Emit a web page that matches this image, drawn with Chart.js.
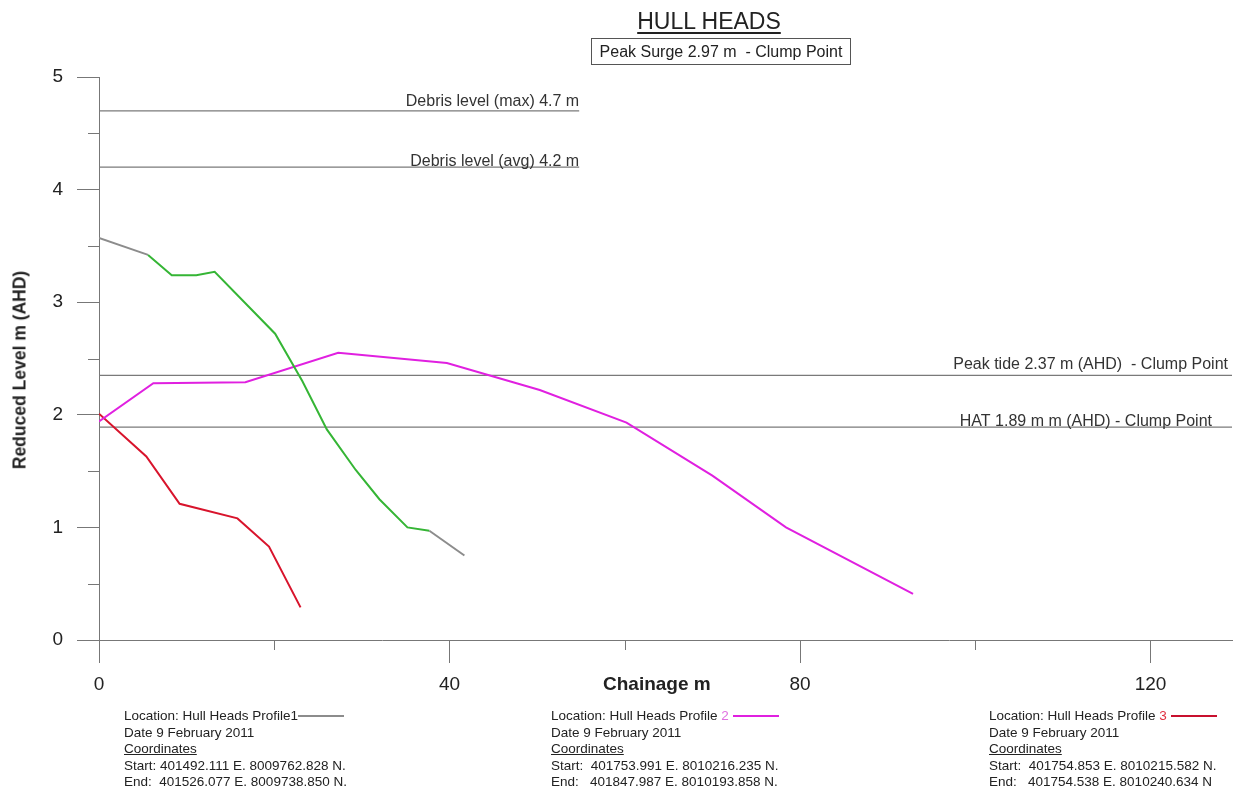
<!DOCTYPE html>
<html>
<head>
<meta charset="utf-8">
<script src="https://cdn.jsdelivr.net/npm/chart.js@4"></script>
<style>
  body { margin: 0; background: #fff; font-family: "Liberation Sans", Arial, sans-serif; color: #222; }
  #wrap { position: absolute; left: 0; top: 0; width: 1233px; height: 789px; }
  .txt { position: absolute; white-space: pre; }
  #title { left: 0; width: 1418px; top: 8px; text-align: center; font-size: 23px; text-decoration: underline; text-underline-offset: 3px; }
  #surge { left: 591px; top: 38px; width: 258px; height: 25px; border: 1px solid #555; font-size: 16px; line-height: 25px; text-align: center; }
  #ytitle { left: 20px; top: 370px; font-size: 17.5px; font-weight: bold; transform: translate(-50%, -50%) rotate(-90deg); }
  #xtitle { left: 603px; top: 673px; font-size: 19px; font-weight: bold; }
  .foot { position: absolute; top: 708px; font-size: 13.5px; line-height: 16.5px; white-space: pre; }
  .foot u { text-decoration: underline; }
  .key { display: inline-block; width: 46px; height: 0; border-top: 2px solid; vertical-align: middle; margin-left: 4px; }
</style>
</head>
<body>
<div id="wrap">
  <canvas id="chart"></canvas>
</div>
<div class="txt" id="title">HULL HEADS</div>
<div class="txt" id="surge">Peak Surge 2.97 m  - Clump Point</div>
<div class="txt" id="ytitle">Reduced Level m (AHD)</div>
<div class="txt" id="xtitle">Chainage m</div>
<div class="foot" style="left:124px">Location: Hull Heads Profile1<span class="key" style="border-color:#8c8c8c;margin-left:0"></span>
Date 9 February 2011
<u>Coordinates</u>
Start: 401492.111 E. 8009762.828 N.
End:  401526.077 E. 8009738.850 N.</div>
<div class="foot" style="left:551px">Location: Hull Heads Profile <span style="color:#e070e0">2</span><span class="key" style="border-color:#e020e0"></span>
Date 9 February 2011
<u>Coordinates</u>
Start:  401753.991 E. 8010216.235 N.
End:   401847.987 E. 8010193.858 N.</div>
<div class="foot" style="left:989px">Location: Hull Heads Profile <span style="color:#e03040">3</span><span class="key" style="border-color:#c8102e"></span>
Date 9 February 2011
<u>Coordinates</u>
Start:  401754.853 E. 8010215.582 N.
End:   401754.538 E. 8010240.634 N</div>

<script>
// Profile data: chainage (m) and reduced level (m AHD)
const profile1X = [0, 5.6, 8.3, 11.1, 13.2, 20.1, 23.2, 26, 29.3, 32, 35.2, 37.7, 41.7];
const profile1Y = [3.57, 3.42, 3.24, 3.24, 3.27, 2.72, 2.3, 1.87, 1.51, 1.25, 1.0, 0.97, 0.75];

const profile2X = [0, 6.2, 16.7, 27.3, 39.7, 50.3, 60.2, 70, 78.4, 92.9];
const profile2Y = [1.94, 2.28, 2.29, 2.55, 2.46, 2.22, 1.93, 1.46, 1.0, 0.41];

const profile3X = [0, 5.4, 9.2, 15.8, 19.4, 23.0];
const profile3Y = [2.01, 1.63, 1.21, 1.08, 0.83, 0.29];

// Reference levels
const refLevels = [4.7, 4.2, 2.35, 1.89];
const refEnds = [54.8, 54.8, 129.3, 129.3];
const refLabels = [
    'Debris level (max) 4.7 m',
    'Debris level (avg) 4.2 m',
    'Peak tide 2.37 m (AHD)  - Clump Point',
    'HAT 1.89 m m (AHD) - Clump Point'
];

const xTickStep = 20;
const yTickStep = 0.5;

const zip = (xs, ys) => xs.map((x, i) => ({ x: x, y: ys[i] }));

const green = '#35b535';
const grey = '#8c8c8c';

const datasets = [
    {
        label: 'Profile 1',
        data: zip(profile1X, profile1Y),
        borderColor: green,
        segment: {
            borderColor: ctx => (ctx.p0DataIndex === 0 || ctx.p0DataIndex >= 11) ? grey : green
        }
    },
    { label: 'Profile 2', data: zip(profile2X, profile2Y), borderColor: '#e020e0' },
    { label: 'Profile 3', data: zip(profile3X, profile3Y), borderColor: '#d8142c' }
].map(d => Object.assign(d, { borderWidth: 2, pointRadius: 0, tension: 0, fill: false }));

refLevels.forEach((lvl, i) => {
    datasets.push({
        label: refLabels[i],
        data: [{ x: 0, y: lvl }, { x: refEnds[i], y: lvl }],
        borderColor: '#7a7a7a',
        borderWidth: 1.2,
        pointRadius: 0
    });
});

// label offsets for the level lines (dx from line end, dy above line)
const refLabelShift = [[0, 9], [0, 5], [-4, 11], [-20, 6]];

const refLabelPlugin = {
    id: 'refLabels',
    afterDatasetsDraw(chart) {
        const { ctx, scales: { x, y } } = chart;
        ctx.save();
        ctx.font = '16px "Liberation Sans", Arial, sans-serif';
        ctx.fillStyle = '#333';
        ctx.textAlign = 'right';
        ctx.textBaseline = 'middle';
        refLevels.forEach((lvl, i) => {
            const px = x.getPixelForValue(refEnds[i]) + refLabelShift[i][0];
            const py = y.getPixelForValue(lvl) - refLabelShift[i][1];
            ctx.fillText(refLabels[i], px, py);
        });
        ctx.restore();
    }
};

const minorTickPlugin = {
    id: 'minorTicks',
    afterDraw(chart) {
        const { ctx, scales: { x, y } } = chart;
        ctx.save();
        ctx.strokeStyle = '#777';
        ctx.lineWidth = 1;
        ctx.beginPath();
        x.ticks.forEach(t => {
            if (t.value % 40 !== 0) {
                const px = Math.round(x.getPixelForValue(t.value)) + 0.5;
                ctx.moveTo(px, y.bottom);
                ctx.lineTo(px, y.bottom + 10);
            }
        });
        y.ticks.forEach(t => {
            if (!Number.isInteger(t.value)) {
                const py = Math.round(y.getPixelForValue(t.value)) + 0.5;
                ctx.moveTo(x.left - 11, py);
                ctx.lineTo(x.left, py);
            }
        });
        ctx.stroke();
        ctx.restore();
    }
};

Chart.defaults.font.family = '"Liberation Sans", Arial, sans-serif';
Chart.defaults.color = '#222';

new Chart(document.getElementById('chart'), {
    type: 'line',
    data: { datasets: datasets },
    options: {
        responsive: true,
        maintainAspectRatio: false,
        animation: false,
        layout: { padding: { top: 77, right: 1, left: 0, bottom: 0 } },
        plugins: {
            legend: { display: false },
            tooltip: { enabled: false }
        },
        scales: {
            x: {
                type: 'linear',
                min: 0,
                max: 129.3,
                border: { display: true, color: '#777', width: 1 },
                grid: {
                    drawOnChartArea: false,
                    drawTicks: true,
                    tickLength: 23,
                    tickColor: ctx => ctx.tick && ctx.tick.value % 40 === 0 ? '#777' : 'rgba(0,0,0,0)'
                },
                ticks: {
                    stepSize: xTickStep,
                    includeBounds: false,
                    autoSkip: false,
                    maxRotation: 0,
                    padding: 10,
                    font: { size: 19 },
                    callback: v => v % 40 === 0 ? v : ''
                },
                afterFit: scale => { scale.height = 149; }
            },
            y: {
                min: 0,
                max: 5,
                border: { display: true, color: '#777', width: 1 },
                grid: {
                    drawOnChartArea: false,
                    drawTicks: true,
                    tickLength: 22,
                    tickColor: ctx => ctx.tick && Number.isInteger(ctx.tick.value) ? '#777' : 'rgba(0,0,0,0)'
                },
                ticks: {
                    stepSize: yTickStep,
                    autoSkip: false,
                    padding: 14,
                    font: { size: 19 },
                    callback: v => Number.isInteger(v) ? v : ''
                },
                afterFit: scale => { scale.width = 99; }
            }
        }
    },
    plugins: [refLabelPlugin, minorTickPlugin]
});
</script>
</body>
</html>
